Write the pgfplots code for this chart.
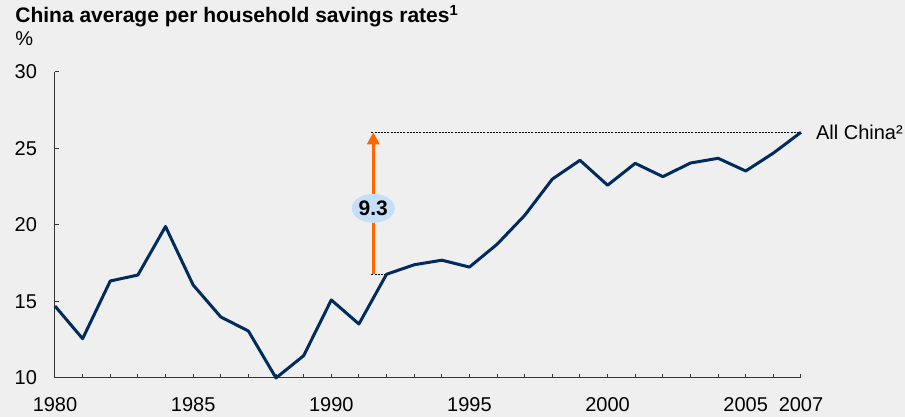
\documentclass[border=0pt]{standalone}
\usepackage{fontspec}
\setmainfont{Liberation Sans}
\usepackage{pgfplots}
\pgfplotsset{compat=1.18}
\usetikzlibrary{arrows.meta,shapes.geometric}
\definecolor{bg}{HTML}{EFEFEF}
\definecolor{navy}{HTML}{002B5C}
\definecolor{orng}{HTML}{FF6600}
\definecolor{lblue}{HTML}{C5DFF8}
\pgfplotstableread{
year val
1980 14.7
1981 12.57
1982 16.34
1983 16.73
1984 19.9
1985 16.08
1986 13.99
1987 13.07
1988 10.0
1989 11.46
1990 15.1
1991 13.53
1992 16.78
1993 17.4
1994 17.7
1995 17.25
1996 18.74
1997 20.63
1998 23.0
1999 24.23
2000 22.6
2001 24.03
2002 23.16
2003 24.05
2004 24.36
2005 23.53
2006 24.7
2007 26.06
}\savings
\begin{document}
\begin{tikzpicture}
\path[use as bounding box, fill=bg] (-27.5pt,-19.5pt) rectangle (425pt,189pt);
\begin{axis}[
 scale only axis, width=373pt, height=153pt,
 xmin=1980, xmax=2007, ymin=10, ymax=30,
 axis x line=bottom, axis y line=left,
 axis line style={-, black!80, line width=0.5pt},
 xtick={1980,1985,1990,1995,2000,2005,2007},
 minor xtick={1980,...,2007},
 ytick={10,15,20,25,30},
 tick align=inside,
 major tick length=2.2pt, minor tick length=2.2pt,
 tick style={black!80, line width=0.5pt},
 xticklabel style={yshift=-6pt},
 yticklabel style={xshift=-5.5pt},
 /pgf/number format/assume math mode=true,
 /pgf/number format/1000 sep={},
 tick label style={font=\fontsize{10}{12}\selectfont},
 clip=false,
]
\draw[line width=0.4pt, dash pattern=on 1pt off 0.6pt] (axis cs:1991.45,26.06) -- (axis cs:2007,26.06);
\draw[line width=0.4pt, dash pattern=on 1pt off 0.6pt] (axis cs:1991.45,16.78) -- (axis cs:1992,16.78);
\draw[orng, line width=1.7pt, -{Triangle[width=6pt,length=6pt]}] (axis cs:1991.52,16.78) -- (axis cs:1991.52,26.06);
\node[fill=lblue, ellipse, inner sep=0pt, minimum width=21.5pt, minimum height=14.5pt, font=\bfseries\fontsize{10.5}{12}\selectfont] at (axis cs:1991.52,21.09) {9.3};
\addplot[navy, line width=1.5pt, no marks, line join=round] table[x=year, y=val] {\savings};
\node[anchor=west, xshift=4pt, font=\fontsize{10}{12}\selectfont] at (axis cs:2007,26.06) {All China²};
\end{axis}
\node[anchor=base west, inner sep=0pt, font=\bfseries\fontsize{10.5}{12}\selectfont] at (-20pt,177.5pt) {China average per household savings rates\textsuperscript{1}};
\node[anchor=base west, inner sep=0pt, font=\fontsize{10}{12}\selectfont] at (-20pt,166pt) {\%};
\end{tikzpicture}
\end{document}
